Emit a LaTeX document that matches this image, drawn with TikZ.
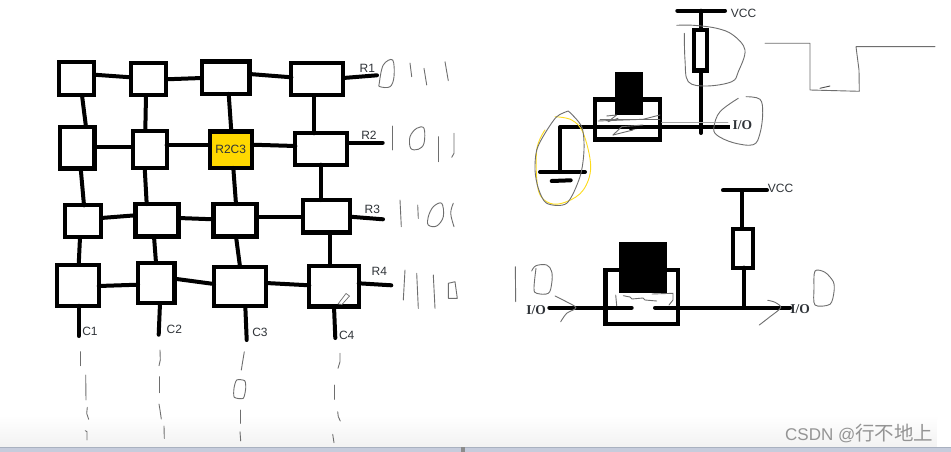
\documentclass[tikz,border=0pt]{standalone}
\usepackage{fontspec}
\setmainfont{Liberation Sans}
\newfontfamily\serifb{Liberation Serif}[BoldFont={Liberation Serif Bold}]
\newfontfamily\cjkf{Noto Sans CJK SC}
\definecolor{ink}{HTML}{000000}
\definecolor{txt}{HTML}{2F3338}
\definecolor{pen}{HTML}{6E6E6E}
\definecolor{hl}{HTML}{FFD800}
\definecolor{strip}{HTML}{C6CCDC}
\definecolor{stripline}{HTML}{A9B1C0}
\tikzset{
 x=1pt,y=-1pt,
 cell/.style n args={2}{draw=ink,line width=4.2pt,fill=white,rectangle,inner sep=0pt,outer sep=0pt,minimum width={#1pt-0.6pt},minimum height={#2pt-0.6pt}},
 wire/.style={draw=ink,line width=4pt,line cap=round},
 hand/.style={draw=pen,line width=0.9pt,line cap=round,line join=round},
 lab/.style={font=\fontsize{12}{12}\selectfont,text=txt,inner sep=0pt},
 iolab/.style={font=\fontsize{13.5}{13.5}\selectfont\serifb\bfseries,text=txt,inner sep=0pt},
}
\begin{document}
\begin{tikzpicture}
\useasboundingbox (0,0) rectangle (951,452);
\fill[white] (0,0) rectangle (951,452);
% bottom window strip
\shade[top color=white,bottom color=black!5] (0,415) rectangle (951,447);
\fill[white,rounded corners=5pt] (937,415) rectangle (960,460);
\fill[strip] (0,447.5) rectangle (951,452);
\fill[stripline] (0,447) rectangle (951,448.2);
\fill[black!45] (461,447) rectangle (465,452);
% grid cells
\node[cell={35.5}{34}] (a1) at (76.7,78.7) {};
\node[cell={36}{33}] (a2) at (148.3,79) {};
\node[cell={48}{33}] (a3) at (225.7,77.7) {};
\node[cell={52.5}{33}] (a4) at (317.3,79) {};
\node[cell={35}{42}] (b1) at (77.3,147.7) {};
\node[cell={34.5}{38}] (b2) at (149.7,149.3) {};
\node[cell={42.5}{37}, fill=hl] (b3) at (231,149.7) {};
\node[cell={52.5}{32}] (b4) at (321.3,149) {};
\node[cell={37}{32.5}] (c1) at (83,221.3) {};
\node[cell={43.5}{33}] (c2) at (157,220.3) {};
\node[cell={43.5}{33}] (c3) at (235,220.3) {};
\node[cell={48}{33}] (c4) at (326.3,216.3) {};
\node[cell={42}{41.5}] (d1) at (78,285.3) {};
\node[cell={37}{41}] (d2) at (156.3,283) {};
\node[cell={52.5}{40}] (d3) at (240,286.3) {};
\node[cell={50}{41}] (d4) at (334,286.3) {};
% free ends
\coordinate (r1) at (377,75.3);
\coordinate (r2) at (382.7,142.7);
\coordinate (r3) at (383,219.3);
\coordinate (r4) at (391.3,285.3);
\coordinate (k1) at (78.7,336);
\coordinate (k2) at (158.7,334.7);
\coordinate (k3) at (246.7,340);
\coordinate (k4) at (335.3,338);
% horizontal links
\draw[wire] (a1.east |- 0,74.7) -- (a2.west |- 0,77.3);
\draw[wire] (a2.east |- 0,79.3) -- (a3.west |- 0,78);
\draw[wire] (a3.east |- 0,74) -- (a4.west |- 0,77.3);
\draw[wire] (a4.east |- 0,78) -- (r1);
\draw[wire] (b1.east |- 0,147.3) -- (b2.west |- 0,147.3);
\draw[wire] (b2.east |- 0,145.3) -- (b3.west |- 0,145.3);
\draw[wire] (b3.east |- 0,144.7) -- (b4.west |- 0,146);
\draw[wire] (b4.east |- 0,142.7) -- (r2);
\draw[wire] (c1.east |- 0,218) -- (c2.west |- 0,215.3);
\draw[wire] (c2.east |- 0,218) -- (c3.west |- 0,219.3);
\draw[wire] (c3.east |- 0,216.7) -- (c4.west |- 0,216.7);
\draw[wire] (c4.east |- 0,216.7) -- (r3);
\draw[wire] (d1.east |- 0,286) -- (d2.west |- 0,284.7);
\draw[wire] (d2.east |- 0,278.7) -- (d3.west |- 0,284);
\draw[wire] (d3.east |- 0,283) -- (d4.west |- 0,285.3);
\draw[wire] (d4.east |- 0,283.3) -- (r4);
% vertical links
\draw[wire] (a1.south -| 82,0) -- (b1.north -| 86,0);
\draw[wire] (a2.south -| 146,0) -- (b2.north -| 145.3,0);
\draw[wire] (a3.south -| 228.7,0) -- (b3.north -| 231.3,0);
\draw[wire] (a4.south -| 314,0) -- (b4.north -| 314,0);
\draw[wire] (b1.south -| 80.7,0) -- (c1.north -| 84,0);
\draw[wire] (b2.south -| 144.7,0) -- (c2.north -| 146.7,0);
\draw[wire] (b3.south -| 233.3,0) -- (c3.north -| 236,0);
\draw[wire] (b4.south -| 320.7,0) -- (c4.north -| 320.7,0);
\draw[wire] (c1.south -| 80,0) -- (d1.north -| 78.7,0);
\draw[wire] (c2.south -| 154,0) -- (d2.north -| 156,0);
\draw[wire] (c3.south -| 236,0) -- (d3.north -| 240,0);
\draw[wire] (c4.south -| 330,0) -- (d4.north -| 330,0);
\draw[wire] (d1.south -| 78.7,0) -- (k1);
\draw[wire] (d2.south -| 160,0) -- (k2);
\draw[wire] (d3.south -| 245.3,0) -- (k3);
\draw[wire] (d4.south -| 334,0) -- (k4);
% labels
\node[lab] (tb3) at (230.7,149.3) {R2C3};
\node[lab] (t1) at (367.3,68.3) {R1};
\node[lab] (t2) at (369,135) {R2};
\node[lab] (t3) at (372.3,209) {R3};
\node[lab] (t4) at (379.3,271) {R4};
\node[lab] (u1) at (90,331.7) {C1};
\node[lab] (u2) at (174.3,329.3) {C2};
\node[lab] (u3) at (260,332.7) {C3};
\node[lab] (u4) at (346.7,335.7) {C4};
% pencil cursor
\draw[hand,line width=0.7pt] (338,304) -- (346,293.5) -- (349.5,296) -- (342,304.5) -- cycle;
% row bit scribbles
\draw[hand] plot[smooth cycle,tension=.6] coordinates {(379.3,83)(383.3,65)(392.7,60)(394,76.7)(390,86.7)(380,86.7)};
\draw[hand] (410,63) -- (411.7,76.7);
\draw[hand] (424,68.3) -- (426.7,85);
\draw[hand] (445,61.7) -- (448.3,80.7);
\draw[hand] (392.7,126) -- (392.7,150);
\draw[hand] plot[smooth cycle,tension=.6] coordinates {(410,136.7)(416.7,128.3)(424,128.3)(424,143.3)(418.3,149.3)(410.7,148.3)};
\draw[hand] (438.3,136.7) -- (438.3,161.7);
\draw[hand] (454,133.3) -- (454,153.3) -- (451.7,157.3);
\draw[hand] (400,200) -- (401.3,226.7);
\draw[hand] (417.7,205) -- (418.3,218.3);
\draw[hand] plot[smooth cycle,tension=.6] coordinates {(428.3,216.7)(433.3,206.7)(441.7,203.3)(443.3,216.7)(436.7,226)(428.3,225)};
\draw[hand] plot[smooth,tension=.6] coordinates {(453.3,203.3)(450.7,213.3)(454,226.7)};
\draw[hand] (405,270) -- (403.3,300);
\draw[hand] (416.7,273.3) -- (418.3,308.3);
\draw[hand] (433.3,275) -- (435,308.3);
\draw[hand] (448.3,283.3) -- (455,281.7) -- (457.3,298.3) -- (448.3,298.3) -- cycle;
% column bit scribbles
\draw[hand] (80.3,351.7) -- (80.3,365.7);
\draw[hand] (85.7,375) -- (86,400);
\draw[hand] (87.3,407.3) -- (86.7,413.3) -- (88.7,419.3);
\draw[hand] (85.3,430.7) -- (87,431.7) -- (87,440);
\draw[hand] (160,350) -- (160.3,360) -- (159,365.7);
\draw[hand] (159,376.7) -- (159,392.7);
\draw[hand] (159,404) -- (160,410) -- (161.3,419);
\draw[hand] (164,426) -- (164.3,438.3);
\draw[hand] (244.3,351.7) -- (241.3,370);
\draw[hand] plot[smooth cycle,tension=.4] coordinates {(236.7,380)(244.7,380.7)(245.7,388.3)(243.3,398.3)(234.3,397.3)(234,388.3)};
\draw[hand] (240.3,410) -- (240.3,423.3);
\draw[hand] (240,431.7) -- (240.7,441);
\draw[hand] (340,353.3) -- (340,361.7) -- (338,368.3);
\draw[hand] (334.7,385) -- (334.7,399.3);
\draw[hand] (337.7,411.7) -- (338.3,416.7) -- (340.3,421);
\draw[hand] (332.7,434.3) -- (334,442.7);
% upper circuit
\coordinate (vl) at (677.3,10.7);
\coordinate (vr) at (725,10.7);
\coordinate (vm) at (701,10.7);
\node[cell={13.5}{41}] (res1) at (700.3,50.3) {};
\coordinate (tap1) at (701,133);
\coordinate (gc) at (560,127);
\coordinate (ioe) at (730,127);
\coordinate (gnd) at (560,172);
\coordinate (gl) at (540,172);
\coordinate (gr) at (585,172);
\coordinate (g2l) at (551.7,181);
\coordinate (g2r) at (570.7,180.3);
\node[cell={66}{40.5}] (fet1) at (627.5,119.5) {};
\node[draw=none,fill=black,rectangle,inner sep=0pt,minimum width=28.3pt,minimum height=43pt] (gate1) at (629.2,93.7) {};
\draw[wire] (vl) -- (vr);
\draw[wire] (vm) -- (res1.north -| vm);
\draw[wire] (res1.south -| vm) -- (tap1);
\draw[wire,line cap=butt] (gc) -- (ioe);
\draw[wire] (gc) -- (gnd);
\draw[wire] (gl) -- (gr);
\draw[wire] (g2l) -- (g2r);
\node[lab,anchor=west] (vcc1) at (730.7,13.3) {VCC};
\node[iolab,anchor=west] (io1) at (732.5,125) {I/O};
% scribbles on upper circuit
\draw[hand] plot[smooth,tension=.6] coordinates {(676.7,25.3)(693.3,25.3)(716.7,28.3)(733,35)(745,50)(738.3,71.7)(731.7,81.7)(706.7,86)(688.3,81.7)(685,60)(684.3,33.3)};
\draw[hand] plot[smooth,tension=.6] coordinates {(746,96.7)(760,99.3)(762.7,113.3)(760,133.3)(753.3,144.7)(733.3,142.7)(716.7,135)(714,126.7)(720,111.7)(738.3,98.3)};
\draw[hand,draw=yellow!75!orange!90!white] plot[smooth,tension=.6] coordinates {(555,116.7)(571.7,120)(583.3,133.3)(590.7,166.7)(583.3,190)(566.7,201.7)(550,203.3)(538.3,190)(536.7,150)(545,130)};
\draw[hand] plot[smooth,tension=.5] coordinates {(568.3,111)(556.7,116.7)(545,133.3)(536.7,150)(535,170)(538.3,188.3)(546.7,203.3)(566.7,203.3)(580,176.7)(584,150)(581.7,126.7)(568.3,111)};
\draw[hand] (598,121) -- (643,119.3) -- (660,115);
\draw[hand] (600,119) -- (660,119);
\draw[hand] (606.7,116) -- (616.7,115) -- (608,121.7) -- (618,118.3);
\draw[hand] (613,135) -- (621.7,126.7) -- (643,125);
\draw[hand] (613,135) -- (633,130);
\draw[hand,line width=2pt,draw=black] (630,129) -- (643,127);
\draw[hand,draw=gray!70] (661.7,122.7) -- (728,122.7);
% waveform
\draw[hand] (765,43.3) -- (810,43.3) -- (810,90) -- (859.3,91.3) -- (859,70) -- (856,46.7) -- (935,46.7);
\draw[hand,draw=black!70] (820,88.3) -- (830,86);
\draw[hand,line width=1.4pt] (823,90.7) -- (836.7,90.7);
% lower circuit
\coordinate (wl) at (723,190.3);
\coordinate (wr) at (767,190.3);
\coordinate (wm) at (742,190.3);
\node[cell={20.7}{39.4}] (res2) at (742.8,248.2) {};
\coordinate (tap2) at (743.7,307.7);
\coordinate (il) at (549.3,307.7);
\coordinate (ir) at (631.7,307.7);
\coordinate (jl) at (655,307.7);
\coordinate (jr) at (790,307.7);
\node[cell={73.4}{55}] (fet2) at (641.8,297) {};
\node[draw=none,fill=black,rectangle,inner sep=0pt,minimum width=47.7pt,minimum height=51.6pt] (gate2) at (642.8,267.5) {};
\draw[wire] (wl) -- (wr);
\draw[wire] (wm) -- (res2.north -| wm);
\draw[wire] (res2.south -| tap2) -- (tap2);
\draw[wire] (il) -- (ir);
\draw[wire] (jl) -- (jr);
\node[lab,anchor=west] (vcc2) at (767.7,188.5) {VCC};
\node[iolab] (io2) at (536,309.7) {I/O};
\node[iolab] (io3) at (800,309) {I/O};
% scribbles on lower circuit
\draw[hand] plot[smooth,tension=.5] coordinates {(555,296)(565,301)(576,307.7)(566.7,313.3)(560.7,321.7)};
\draw[hand] plot[smooth,tension=.5] coordinates {(767.7,300.3)(775,302.3)(780.7,307.7)(770,316.7)(759.3,325)};
\draw[hand] (515.3,266.7) -- (515.7,301.7);
\draw[hand] plot[smooth,tension=.6] coordinates {(531.7,271)(536,265.7)(546.7,265)(551.7,271.7)(551.7,283.3)(548.3,293.3)(536.7,293.3)(534,288.3)(536,268.3)};
\draw[hand] plot[smooth cycle,tension=.5] coordinates {(815,271)(825,272.3)(833.3,281.7)(834,291.7)(830,304.3)(815,305)(814,288.3)};
\draw[hand] (615.7,295) -- (616.7,305.7);
\draw[hand] (623.3,295.7) -- (630,297) -- (632,299) -- (643,298) -- (645,300) -- (656.7,301);
\draw[hand] (652,294) -- (673,293.3) -- (673,300) -- (669,305);
% watermark
\node[inner sep=0pt,anchor=west,text=black!42,font=\fontsize{17}{17}\selectfont] (wm1) at (785,433) {CSDN @{\fontsize{19.5}{19.5}\cjkf 行不地上}};
\end{tikzpicture}
\end{document}
